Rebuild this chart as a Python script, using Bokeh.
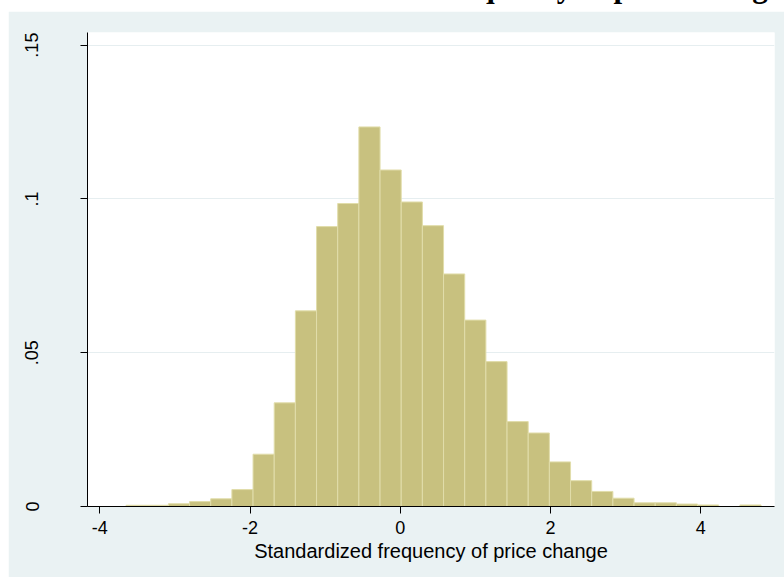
import math
from bokeh.plotting import figure
from bokeh.models import FixedTicker, Div, Spacer
from bokeh.layouts import column, row
from bokeh.embed import file_html
from bokeh.resources import INLINE

# Histogram data (fraction of observations per bin)
bin_start = -3.65
bin_width = 0.2817
fractions = [0.0004, 0.0004, 0.0009, 0.0016, 0.0025, 0.0055, 0.0170, 0.0337,
             0.0636, 0.0910, 0.0985, 0.1234, 0.1094, 0.0990, 0.0913, 0.0756,
             0.0606, 0.0471, 0.0276, 0.0239, 0.0145, 0.0084, 0.0049, 0.0027,
             0.0012, 0.0012, 0.0008, 0.0005, 0.0000, 0.0005]
x_ticks = [-4, -2, 0, 2, 4]
x_tick_labels = ["-4", "-2", "0", "2", "4"]
y_ticks = [0, 0.05, 0.1, 0.15]
y_tick_labels = ["0", ".05", ".1", ".15"]
x_title = "Standardized frequency of price change"
title_text = "Standardized frequency of price change"

lefts = [bin_start + k * bin_width for k in range(len(fractions))]
rights = [l + bin_width for l in lefts]

BG = "#eaf2f3"
p = figure(width=776, height=566, x_range=(-4.163, 4.98), y_range=(0, 0.1541),
           output_backend="svg", toolbar_location=None,
           min_border_left=79, min_border_right=10, min_border_top=21, min_border_bottom=71)
p.border_fill_color = BG
p.background_fill_color = "white"
p.outline_line_color = None

p.quad(left=lefts, right=rights, top=fractions, bottom=0,
       fill_color="#c8c17f", line_color="#e1ddaa", line_width=1)

p.xgrid.grid_line_color = None
p.ygrid.grid_line_color = "#e6eef0"
p.ygrid.grid_line_width = 1
p.ygrid.level = "underlay"

p.xaxis.ticker = FixedTicker(ticks=x_ticks)
p.xaxis.major_label_overrides = {t: s for t, s in zip(x_ticks, x_tick_labels)}
p.yaxis.ticker = FixedTicker(ticks=y_ticks)
p.yaxis.major_label_overrides = {t: s for t, s in zip(y_ticks, y_tick_labels)}
p.yaxis.major_label_orientation = "parallel"

for ax in (p.xaxis, p.yaxis):
    ax.axis_line_color = "black"
    ax.axis_line_width = 1
    ax.major_tick_line_color = "black"
    ax.major_tick_out = 7
    ax.major_tick_in = 0
    ax.minor_tick_line_color = None
    ax.major_label_text_font = "Liberation Sans"
    ax.major_label_text_font_size = "18px"
    ax.major_label_text_color = "black"

p.xaxis.major_label_standoff = 7
p.yaxis.major_label_standoff = 42
p.xaxis.axis_label = x_title
p.xaxis.axis_label_text_font = "Liberation Sans"
p.xaxis.axis_label_text_font_size = "20px"
p.xaxis.axis_label_text_font_style = "normal"
p.xaxis.axis_label_text_color = "black"
p.xaxis.axis_label_standoff = 3

title_html = ('<div style="position:relative;left:255px;top:-29px;white-space:nowrap;'
              'font-family:\'Liberation Serif\';font-weight:bold;font-size:31px;'
              'line-height:31px;color:black;">' + title_text + '</div>')
title = Div(text=title_html, width=784, height=11,
            styles={"overflow": "hidden", "margin": "0", "padding": "0"})

layout = column(title, row(Spacer(width=8, height=566), p, spacing=0), spacing=0)

open("out.html", "w").write(file_html(layout, INLINE))
